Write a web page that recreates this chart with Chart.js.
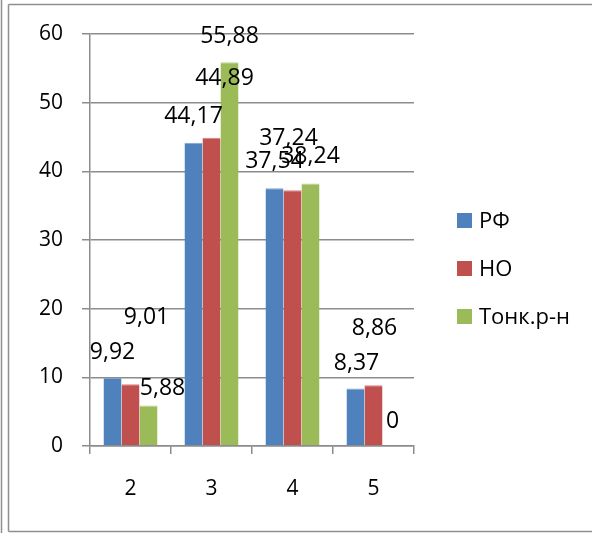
<!DOCTYPE html>
<html>
<head>
<meta charset="utf-8">
<script src="https://cdn.jsdelivr.net/npm/chart.js@4/dist/chart.umd.min.js"></script>
<style>
  html, body { margin: 0; padding: 0; background: #fff; }
  canvas { display: block; }
</style>
</head>
<body>
<canvas id="c" width="592" height="533"></canvas>
<script>
// Categories (marks) and the share per series
const categories = ['2', '3', '4', '5'];
const seriesNames = ['РФ', 'НО', 'Тонк.р-н'];
const rfValues   = [9.92, 44.17, 37.54, 8.37];
const noValues   = [9.01, 44.89, 37.24, 8.86];
const tonkValues = [5.88, 55.88, 38.24, 0];
const yTicks = [0, 10, 20, 30, 40, 50, 60];

// Styling
const fills   = ['#4F81BD', '#C0504D', '#9BBB59'];
const edges   = ['#7FA3D1', '#D8817F', '#BCD38F'];
const gridCol = '#8C8C8C';
const FONT = '"Open Sans", "Noto Sans", sans-serif';

// Where each value label sits: [dx, dy] from the bar's top centre, in px
const labelShift = [
  [[0, -27], [0, -28], [0, -28], [1, -27]],
  [[16, -68], [13, -61], [-4, -53], [1, -58]],
  [[14, -19], [0, -27], [0, -28], [1, -26]]
];

const fmt = v => String(v).replace('.', ',');

const framePlugin = {
  id: 'frame',
  beforeDraw(chart) {
    const ctx = chart.ctx, w = chart.width, h = chart.height;
    ctx.save();
    ctx.fillStyle = '#fff';
    ctx.fillRect(0, 0, w, h);
    ctx.strokeStyle = '#8F8F8F';
    ctx.lineWidth = 1.5;
    ctx.beginPath();
    ctx.moveTo(1.5, 0); ctx.lineTo(1.5, h);
    ctx.moveTo(8.5, 4.5); ctx.lineTo(8.5, h - 1.5);
    ctx.moveTo(8.5, 4.5); ctx.lineTo(w, 4.5);
    ctx.moveTo(8.5, h - 1.5); ctx.lineTo(w, h - 1.5);
    ctx.stroke();
    ctx.restore();
  }
};

const valueLabelPlugin = {
  id: 'valueLabels',
  afterDatasetsDraw(chart) {
    const ctx = chart.ctx;
    ctx.save();
    ctx.font = '23px ' + FONT;
    ctx.fillStyle = '#000';
    ctx.textAlign = 'center';
    ctx.textBaseline = 'alphabetic';
    chart.data.datasets.forEach((ds, di) => {
      const meta = chart.getDatasetMeta(di);
      meta.data.forEach((bar, i) => {
        const [dx, dy] = labelShift[di][i];
        ctx.fillText(fmt(ds.data[i]), bar.x + dx, bar.y + dy + 8);
      });
    });
    ctx.restore();
  }
};

const legendPlugin = {
  id: 'sideLegend',
  afterDraw(chart) {
    const ctx = chart.ctx;
    ctx.save();
    ctx.font = '22px ' + FONT;
    ctx.textBaseline = 'alphabetic';
    ctx.textAlign = 'left';
    chart.data.datasets.forEach((ds, i) => {
      const cy = 220.5 + i * 48;
      ctx.fillStyle = ds.backgroundColor;
      ctx.fillRect(457, cy - 7.5, 15, 15);
      ctx.fillStyle = '#000';
      ctx.fillText(ds.label, 479, cy + 7.8);
    });
    ctx.restore();
  }
};

const seriesValues = [rfValues, noValues, tonkValues];

new Chart(document.getElementById('c'), {
  type: 'bar',
  data: {
    labels: categories,
    datasets: seriesNames.map((name, i) => ({
      label: name,
      data: seriesValues[i],
      backgroundColor: fills[i],
      borderColor: edges[i],
      borderWidth: { top: 1, left: 0, right: 0, bottom: 0 },
      borderSkipped: 'bottom',
      categoryPercentage: 2 / 3,
      barPercentage: 1
    }))
  },
  options: {
    responsive: false,
    devicePixelRatio: 1,
    animation: false,
    layout: { padding: { left: 10, right: 178, top: 34, bottom: 27 } },
    plugins: { legend: { display: false }, tooltip: { enabled: false } },
    scales: {
      x: {
        afterFit: s => { s.height = 60; },
        grid: { drawOnChartArea: false, drawTicks: true, tickLength: 8, color: gridCol, lineWidth: 1.5 },
        border: { display: true, color: gridCol, width: 1.5 },
        ticks: { color: '#000', font: { family: FONT, size: 21 }, padding: 22 }
      },
      y: {
        min: 0,
        max: 60,
        afterFit: s => { s.width = 80; },
        afterBuildTicks: s => { s.ticks = yTicks.map(v => ({ value: v })); },
        grid: { color: gridCol, lineWidth: 1.5, tickLength: 8 },
        border: { display: true, color: gridCol, width: 1.5 },
        ticks: { color: '#000', font: { family: FONT, size: 21 }, padding: 19 }
      }
    }
  },
  plugins: [framePlugin, valueLabelPlugin, legendPlugin]
});
</script>
</body>
</html>
